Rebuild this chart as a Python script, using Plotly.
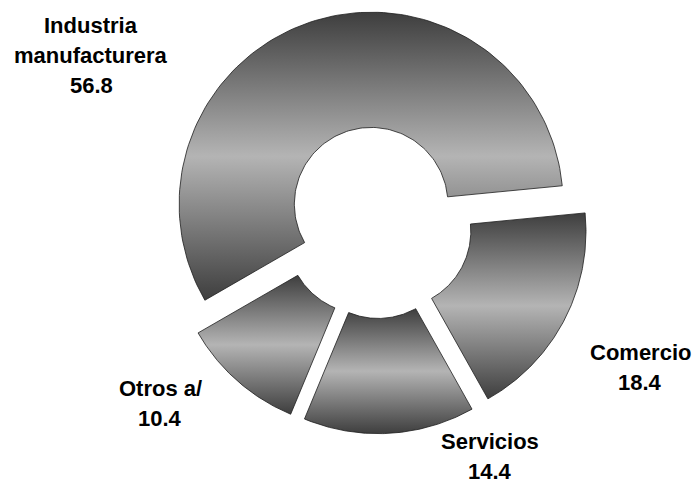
import numpy as np
import plotly.graph_objects as go

SECTORES = ["Industria manufacturera", "Comercio", "Servicios", "Otros a/"]
VALORES = [56.8, 18.4, 14.4, 10.4]
LINEAS_ETIQUETA = [["Industria", "manufacturera"], ["Comercio"], ["Servicios"], ["Otros a/"]]

ANCHO, ALTO = 695, 485
CENTRO_PX = (377, 222.5)   # centro del anillo en pixeles
RADIO_PX = 192
HUECO = 0.40
SEPARACION = 0.10
ANGULO_INICIO = 210.0      # grados, sentido horario

COR_OSCURO = "#3e3e3e"
COR_CLARO = "#b4b4b4"
COR_BORDE = "#1e1e1e"

# posicion (pixeles) del centro de la primera linea de cada etiqueta
POS_ETIQUETA = [(91, 25), (640, 352), (490, 441), (160, 388)]
SALTO_LINEA = 30


def sector_anillo(a0, a1, desplazamiento):
    medio = np.radians((a0 + a1) / 2)
    cx = desplazamiento * np.cos(medio)
    cy = desplazamiento * np.sin(medio)
    t = np.radians(np.linspace(a0, a1, 120))
    x = np.concatenate([np.cos(t), HUECO * np.cos(t[::-1])])
    y = np.concatenate([np.sin(t), HUECO * np.sin(t[::-1])])
    x = np.append(x, x[0]) + cx
    y = np.append(y, y[0]) + cy
    return x, y


fig = go.Figure()

total = sum(VALORES)
angulo = ANGULO_INICIO
for nombre, valor in zip(SECTORES, VALORES):
    barrido = 360.0 * valor / total
    x, y = sector_anillo(angulo, angulo - barrido, SEPARACION)
    angulo -= barrido
    fig.add_trace(
        go.Scatter(
            x=x,
            y=y,
            mode="lines",
            fill="toself",
            fillgradient=dict(
                type="vertical",
                colorscale=[[0, COR_OSCURO], [0.5, COR_CLARO], [1, COR_OSCURO]]
            ),
            line=dict(color=COR_BORDE, width=0.8),
            name=nombre,
            hoverinfo="skip",
            showlegend=False
        )
    )

for lineas, valor, (px, py) in zip(LINEAS_ETIQUETA, VALORES, POS_ETIQUETA):
    for i, texto in enumerate(lineas + [f"{valor:.1f}"]):
        fig.add_annotation(
            x=px / ANCHO,
            y=1 - (py + i * SALTO_LINEA) / ALTO,
            xref="paper",
            yref="paper",
            text=f"<b>{texto}</b>",
            showarrow=False,
            xanchor="center",
            yanchor="middle",
            borderpad=0,
            font=dict(family="Arial, Liberation Sans", size=22, color="black")
        )

x0 = -CENTRO_PX[0] / RADIO_PX
x1 = (ANCHO - CENTRO_PX[0]) / RADIO_PX
y1 = CENTRO_PX[1] / RADIO_PX
y0 = -(ALTO - CENTRO_PX[1]) / RADIO_PX

fig.update_layout(
    width=ANCHO,
    height=ALTO,
    paper_bgcolor="white",
    plot_bgcolor="white",
    margin=dict(l=0, r=0, t=0, b=0),
    xaxis=dict(range=[x0, x1], visible=False, fixedrange=True),
    yaxis=dict(range=[y0, y1], visible=False, fixedrange=True),
    showlegend=False
)

# quitar el margen por defecto del <body> para que la figura ocupe la ventana
fig.write_html(
    "out.html",
    config={"displayModeBar": False},
    post_script="document.body.style.margin = '0';"
)
